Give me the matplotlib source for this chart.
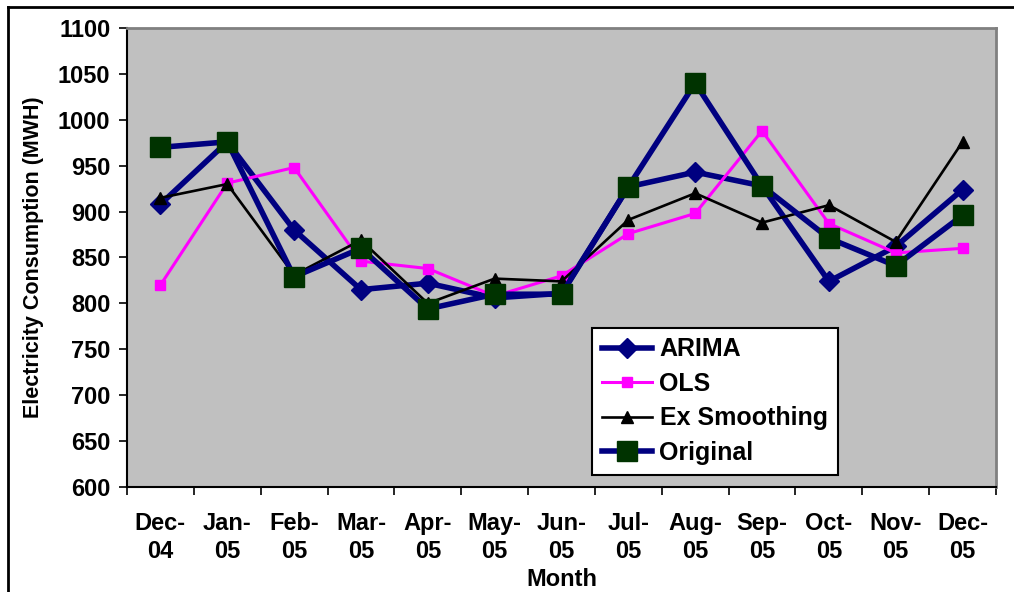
import matplotlib
matplotlib.use("Agg")
import matplotlib.pyplot as plt
from matplotlib.lines import Line2D

months = ["Dec-\n04", "Jan-\n05", "Feb-\n05", "Mar-\n05", "Apr-\n05", "May-\n05", "Jun-\n05",
          "Jul-\n05", "Aug-\n05", "Sep-\n05", "Oct-\n05", "Nov-\n05", "Dec-\n05"]
arima = [908, 976, 880, 815, 822, 806, 811, 927, 943, 928, 824, 862, 924]
ols = [820, 931, 948, 846, 838, 808, 830, 876, 898, 988, 887, 855, 860]
ex_smoothing = [915, 930, 831, 869, 800, 827, 824, 891, 920, 888, 907, 867, 976]
original = [970, 976, 829, 860, 794, 810, 810, 927, 1040, 928, 871, 841, 896]

plt.rcParams["font.family"] = ["Liberation Sans", "DejaVu Sans"]
plt.rcParams["font.weight"] = "bold"

fig = plt.figure(figsize=(10.14, 5.92), dpi=100)
ax = fig.add_axes([127 / 1014, 105 / 592, 869 / 1014, 459 / 592])
ax.set_facecolor("#c0c0c0")

x = range(len(months))
ax.plot(x, arima, color="#000080", lw=4, marker="D", ms=10, label="ARIMA", zorder=3)
ax.plot(x, ols, color="#ff00ff", lw=2.2, marker="s", ms=7, label="OLS", zorder=4)
ax.plot(x, ex_smoothing, color="black", lw=1.9, marker="^", ms=9, label="Ex Smoothing", zorder=5)
ax.plot(x, original, color="#000080", lw=4, marker="s", ms=15, mfc="#003300", mec="#003300",
        label="Original", zorder=6)

ax.set_xlim(-0.5, len(months) - 0.5)
ax.set_ylim(600, 1100)
ax.set_yticks(range(600, 1101, 50))
ax.set_xticks([i + 0.5 for i in range(-1, len(months))], minor=False)
ax.set_xticklabels([])
ax.set_xticks(list(x), minor=True)
ax.set_xticklabels(months, minor=True, fontsize=17, fontweight="bold", linespacing=1.3)
ax.tick_params(axis="x", which="minor", length=0, pad=18)
ax.tick_params(axis="x", which="major", direction="out", length=6, width=1.2, color="black")
ax.tick_params(axis="y", direction="out", length=6, width=1.2, labelsize=17, pad=6)
for lab in ax.get_yticklabels():
    lab.set_fontweight("bold")

for side in ("top", "right"):
    ax.spines[side].set_color("#808080")
    ax.spines[side].set_linewidth(2)
for side in ("left", "bottom"):
    ax.spines[side].set_color("black")
    ax.spines[side].set_linewidth(1.5)

ax.set_xlabel("Month", fontsize=17, fontweight="bold", labelpad=3)
ax.set_ylabel("Electricity Consumption (MWH)", fontsize=15.5, fontweight="bold", labelpad=10)

leg = ax.legend(loc="lower left", bbox_to_anchor=((592 - 127) / 869, 12 / 459),
                bbox_transform=ax.transAxes, fontsize=18, frameon=True, fancybox=False,
                framealpha=1, handlelength=2.0, borderpad=0.4, labelspacing=0.42,
                handletextpad=0.3, borderaxespad=0)
leg.get_frame().set_edgecolor("black")
leg.get_frame().set_linewidth(1.5)
leg.get_frame().set_facecolor("white")
for t in leg.get_texts():
    t.set_fontweight("bold")

fig.add_artist(Line2D([8 / 1014, 1], [1 - 7 / 592, 1 - 7 / 592], color="black", lw=2,
                      transform=fig.transFigure))
fig.add_artist(Line2D([8 / 1014, 8 / 1014], [0, 1 - 7 / 592], color="black", lw=2,
                      transform=fig.transFigure))

fig.savefig("out.png", dpi=100)
